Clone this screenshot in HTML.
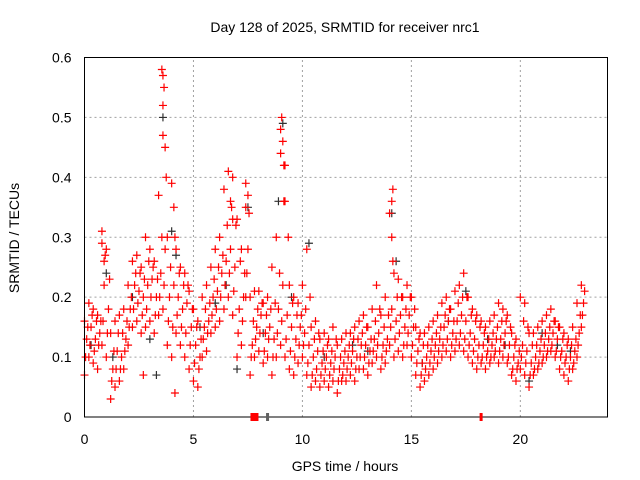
<!DOCTYPE html>
<html><head><meta charset="utf-8"><style>
body{margin:0;background:#fff}
svg{display:block;font-family:"Liberation Sans",sans-serif}
</style></head><body>
<svg id="chart" width="640" height="480">
<text x="345" y="32" text-anchor="middle" font-size="14">Day 128 of 2025, SRMTID for receiver nrc1</text>
<text x="345" y="471" text-anchor="middle" font-size="14">GPS time / hours</text>
<text transform="translate(19,238) rotate(-90)" text-anchor="middle" font-size="14">SRMTID / TECUs</text>
<g id="grid"></g><g id="grey"></g><g id="red"></g><g id="axes"></g>
</svg>
<script>
const xTicks=[0,5,10,15,20];
const yTicks=[0,0.1,0.2,0.3,0.4,0.5,0.6];
const yTickLabels=["0","0.1","0.2","0.3","0.4","0.5","0.6"];
const stepTimes=[0,0.2,0.4,0.6,0.8,1.0,1.2,1.4,1.6,1.8,2.0,2.2,2.4,2.6,2.8,3.0,3.2,3.4,3.6,3.8,4.0,4.2,4.4,4.6,4.8,5.0,5.2,5.4,5.6,5.8,6.0,6.2,6.4,6.6,6.8,7.0,7.2,7.4,7.6,7.8,8.0,8.2,8.4,8.6,8.8,9.0,9.2,9.4,9.6,9.8,10.0,10.2,10.4,10.6,10.8,11.0,11.2,11.4,11.6,11.8,12.0,12.2,12.4,12.6,12.8,13.0,13.2,13.4,13.6,13.8,14.0,14.2,14.4,14.6,14.8,15.0,15.2,15.4,15.6,15.8,16.0,16.2,16.4,16.6,16.8,17.0,17.2,17.4,17.6,17.8,18.0,18.2,18.4,18.6,18.8,19.0,19.2,19.4,19.6,19.8,20.0,20.2,20.4,20.6,20.8,21.0,21.2,21.4,21.6,21.8,22.0,22.2,22.4,22.6,22.8];
const loVals=[.07,.10,.09,.08,.12,.10,.03,.05,.06,.08,.12,.15,.16,.14,.15,.16,.14,.17,.18,.12,.10,.14,.12,.10,.08,.06,.05,.10,.11,.14,.15,.16,.18,.20,.17,.10,.12,.20,.07,.10,.11,.09,.10,.07,.10,.12,.10,.08,.07,.09,.10,.07,.05,.06,.05,.06,.05,.06,.04,.06,.06,.07,.06,.08,.08,.07,.09,.10,.08,.09,.12,.10,.11,.10,.12,.10,.07,.05,.06,.07,.08,.09,.10,.11,.10,.11,.12,.11,.10,.09,.08,.09,.08,.09,.10,.09,.10,.09,.07,.06,.08,.07,.05,.07,.08,.09,.10,.11,.10,.08,.07,.06,.08,.10,.15];
const q1Vals=[.10,.12,.11,.12,.16,.14,.06,.08,.08,.11,.15,.18,.19,.17,.18,.20,.17,.20,.22,.16,.15,.17,.15,.14,.12,.09,.08,.13,.14,.17,.18,.20,.22,.24,.21,.14,.16,.24,.10,.13,.14,.11,.13,.10,.14,.16,.13,.11,.10,.12,.12,.09,.07,.08,.07,.08,.07,.08,.06,.07,.08,.09,.08,.10,.10,.09,.11,.12,.10,.11,.15,.13,.14,.12,.14,.12,.09,.07,.08,.09,.10,.11,.12,.13,.12,.13,.14,.13,.12,.11,.10,.10,.10,.10,.11,.11,.12,.10,.08,.08,.10,.09,.07,.08,.09,.10,.11,.12,.11,.10,.09,.08,.09,.12,.17];
const midVals=[.13,.15,.13,.14,.22,.18,.08,.11,.10,.13,.18,.22,.21,.20,.22,.23,.20,.24,.28,.20,.22,.20,.18,.19,.15,.12,.10,.15,.16,.20,.21,.24,.26,.28,.25,.18,.20,.28,.12,.15,.17,.14,.15,.13,.18,.22,.17,.15,.13,.15,.14,.12,.10,.11,.09,.10,.09,.10,.08,.09,.10,.11,.10,.12,.12,.11,.13,.14,.12,.13,.18,.16,.17,.15,.17,.15,.11,.09,.10,.11,.12,.13,.15,.16,.14,.16,.17,.16,.14,.13,.12,.12,.11,.12,.13,.13,.14,.12,.10,.09,.12,.11,.09,.10,.11,.12,.13,.14,.13,.11,.10,.10,.11,.14,.19];
const q3Vals=[.15,.17,.16,.16,.27,.23,.11,.14,.14,.16,.20,.24,.24,.23,.26,.25,.23,.30,.40,.25,.30,.24,.22,.22,.18,.15,.13,.18,.19,.23,.25,.27,.32,.35,.32,.26,.24,.34,.16,.18,.19,.17,.18,.19,.24,.36,.30,.19,.17,.17,.18,.20,.13,.14,.11,.12,.11,.13,.10,.11,.12,.13,.13,.14,.15,.13,.16,.18,.15,.17,.26,.20,.20,.18,.20,.18,.13,.12,.12,.13,.14,.15,.17,.18,.16,.19,.20,.20,.17,.16,.15,.14,.13,.14,.15,.16,.16,.15,.12,.11,.16,.15,.12,.12,.13,.14,.15,.16,.15,.13,.12,.12,.13,.17,.21];
const hiVals=[.16,.19,.18,.17,.31,.28,.14,.16,.17,.18,.22,.26,.27,.25,.30,.28,.26,.37,.57,.30,.39,.28,.25,.24,.21,.18,.16,.20,.22,.25,.28,.30,.38,.41,.40,.33,.28,.39,.20,.21,.21,.19,.20,.25,.30,.48,.42,.22,.20,.19,.22,.28,.15,.16,.13,.14,.13,.15,.12,.13,.14,.14,.15,.16,.17,.15,.18,.22,.17,.20,.34,.24,.23,.20,.22,.20,.15,.14,.14,.15,.16,.17,.19,.20,.18,.21,.22,.24,.20,.18,.17,.16,.15,.16,.17,.19,.18,.17,.14,.13,.20,.19,.14,.14,.15,.16,.17,.18,.16,.15,.14,.13,.15,.19,.22];
const spikeTimes=[3.6,3.6,3.65,3.55,3.7,9.0,9.05,9.1,9.15,9.2,6.7,6.8,7.4,7.5,14.1,14.1,14.15,4.1,0.9,0.8,4.15,2.7];
const spikeVals=[.52,.47,.55,.58,.45,.44,.50,.46,.42,.36,.36,.33,.35,.37,.30,.36,.38,.35,.26,.29,.04,.07];
const greyTimes=[0.3,1.0,1.3,2.2,3.0,3.3,3.6,4.0,4.2,5.3,6.0,6.5,7.0,7.5,8.2,8.9,9.1,9.5,10.3,11.0,12.3,13.0,14.1,14.3,15.5,16.7,17.5,18.5,19.3,20.4,21.0,21.7,22.3];
const greyVals=[.12,.24,.10,.20,.13,.07,.50,.31,.27,.15,.19,.22,.08,.35,.14,.36,.49,.20,.29,.10,.12,.11,.34,.26,.09,.16,.21,.13,.12,.06,.14,.12,.11];
const X0=84.5,X1=607.5,Y0=417,Y1=57.5;
const xs=t=>X0+(t/24)*(X1-X0);
const ys=v=>Y0-(v/0.6)*(Y0-Y1);
const NS="http://www.w3.org/2000/svg";
function mk(tag,attrs,parent){const e=document.createElementNS(NS,tag);for(const k in attrs)e.setAttribute(k,attrs[k]);parent.appendChild(e);return e;}
const grid=document.getElementById('grid'),axes=document.getElementById('axes');
xTicks.forEach(t=>{
  if(t>0){const g=mk('line',{x1:xs(t),x2:xs(t),y1:Y0,y2:Y1,stroke:'#a0a0a0','stroke-dasharray':'2,3'},grid);
  
  }
  const l=mk('text',{x:xs(t),y:Y0+27,'text-anchor':'middle','font-size':14},axes);l.textContent=t;
  
  
});
yTicks.forEach((v,i)=>{
  if(v>0&&v<0.6){const g=mk('line',{x1:X0,x2:X1,y1:ys(v),y2:ys(v),stroke:'#a0a0a0','stroke-dasharray':'2,3'},grid);
  
  }
  const l=mk('text',{x:X0-13,y:ys(v)+5,'text-anchor':'end','font-size':14},axes);l.textContent=yTickLabels[i];
  
  
});
const frame=mk('rect',{x:X0,y:Y1,width:X1-X0,height:Y0-Y1,fill:'none',stroke:'#000','stroke-width':1},axes);


function plus(t,v,color,parent,name){
  const x=xs(t),y=ys(v);
  const p=mk('path',{d:`M${x-4} ${y}H${x+4}M${x} ${y-4}V${y+4}`,stroke:color,'stroke-width':1.2,fill:'none'},parent);
  
  
}
const grey=document.getElementById('grey'),red=document.getElementById('red');
greyTimes.forEach((t,i)=>plus(t,greyVals[i],'#303030',grey,'reference-point'));
stepTimes.forEach((t,i)=>{
  plus(t,loVals[i],'#ff0000',red,'srmtid-point');
  plus(t+0.05,q1Vals[i],'#ff0000',red,'srmtid-point');
  plus(t+0.1,midVals[i],'#ff0000',red,'srmtid-point');
  plus(t+0.15,q3Vals[i],'#ff0000',red,'srmtid-point');
  plus(t,hiVals[i],'#ff0000',red,'srmtid-point');
});
spikeTimes.forEach((t,i)=>plus(t,spikeVals[i],'#ff0000',red,'srmtid-point'));
const m1=mk('rect',{x:xs(7.8)-4,y:Y0-4,width:8,height:8,fill:'#ff0000'},axes);


const m2=mk('rect',{x:xs(18.2)-1.5,y:Y0-4,width:3,height:8,fill:'#ff0000'},axes);


const m3=mk('rect',{x:xs(8.4)-1.5,y:Y0-4,width:3,height:8,fill:'#606060'},axes);


</script>
</body></html>
